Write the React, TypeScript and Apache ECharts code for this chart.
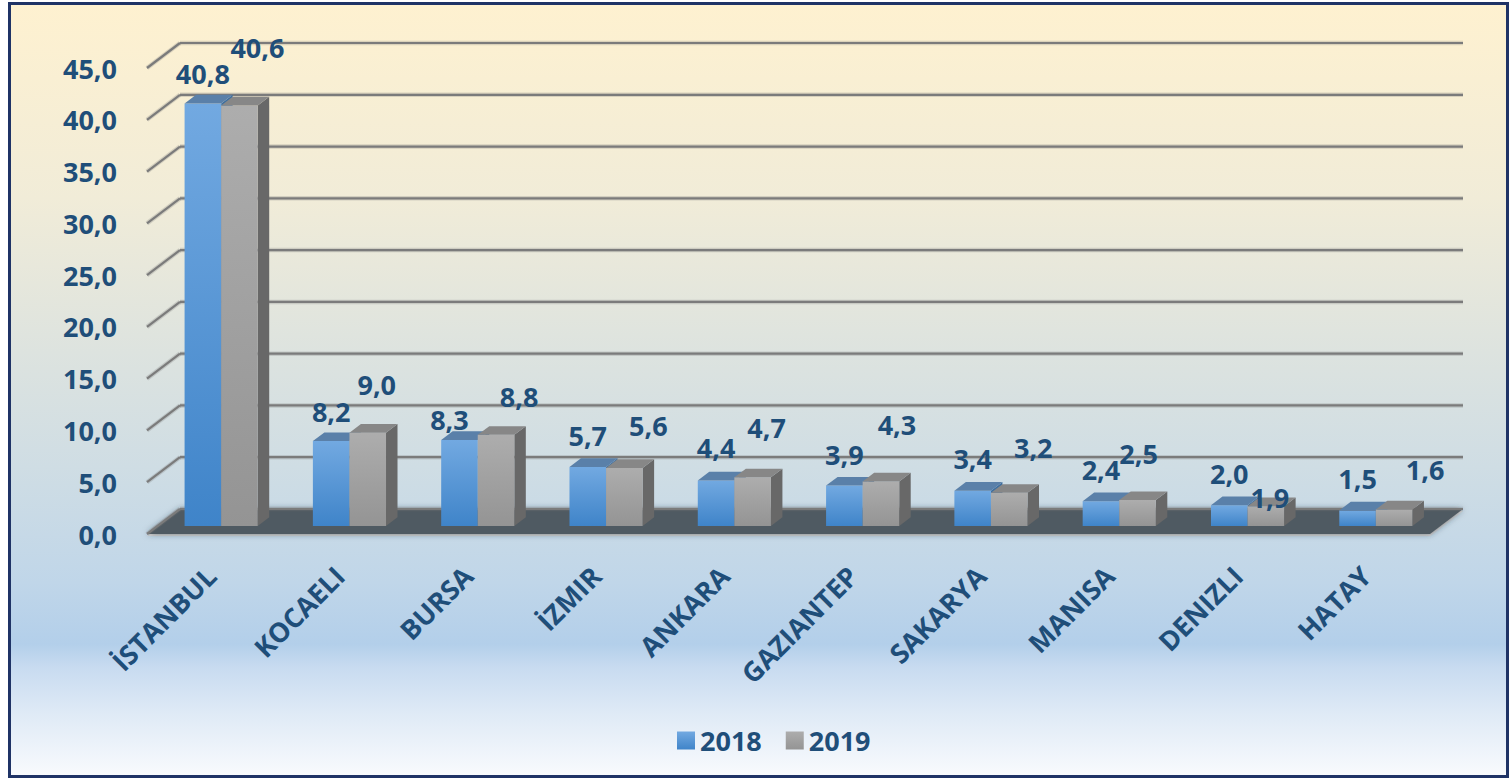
import React, { useEffect, useRef } from "react";
import * as echarts from "echarts";

// ---------- data ----------
const categories = ["İSTANBUL", "KOCAELI", "BURSA", "İZMIR", "ANKARA", "GAZIANTEP", "SAKARYA", "MANISA", "DENIZLI", "HATAY"];
const values2018 = [40.8, 8.2, 8.3, 5.7, 4.4, 3.9, 3.4, 2.4, 2.0, 1.5];
const values2019 = [40.6, 9.0, 8.8, 5.6, 4.7, 4.3, 3.2, 2.5, 1.9, 1.6];
const seriesNames = ["2018", "2019"];
const yMin = 0;
const yMax = 45;
const yStep = 5;

// ---------- styling / layout ----------
const TEXT = "#1f4e79";
const FONT = "'Open Sans', 'Noto Sans', sans-serif";
const FS = 27;
const GRID_LINE = "#7b7b7b";
const BACK = [23, -17]; // back wall offset from bar plane (px)
const FRONT = [-10, 8]; // front edge offset from bar plane (px)
const DEPTH = [11.5, -8.7]; // bar depth (px)
const BAR_FRAC = 0.285;
// label nudges relative to the centre of each bar's top-front edge
const nudge2018 = [[0, -30], [0, -30], [-10, -21], [0, -31], [0, -33], [0, -31], [0, -32], [0, -32], [0, -32], [0, -32]];
const nudge2019 = [[18, -58], [9, -48], [23, -38], [24, -43], [14, -50], [16, -57], [24, -45], [1, -47], [4, -9], [31, -40]];

const fmt = (v: number) => v.toFixed(1).replace(".", ",");

const palettes = [
  {
    front: [
      { offset: 0, color: "#72a9e1" },
      { offset: 1, color: "#3f84c9" },
    ],
    top: "#5a80a9",
    side: "#3f6f9f",
  },
  {
    front: [
      { offset: 0, color: "#adadad" },
      { offset: 1, color: "#949494" },
    ],
    top: "#878787",
    side: "#686868",
  },
];

function lg(stops: { offset: number; color: string }[]) {
  return new echarts.graphic.LinearGradient(0, 0, 0, 1, stops);
}

function makeBar(k: number) {
  return (params: any, api: any) => {
    const i = api.value(0);
    const v = api.value(1);
    const top = api.coord([i, v]);
    const base = api.coord([i, 0]);
    const cw = api.size([1, 0])[0];
    const bw = cw * BAR_FRAC;
    const x0 = top[0] - (k === 0 ? bw : 0);
    const x1 = x0 + bw;
    const yt = top[1];
    const yb = base[1];
    const [dx, dy] = DEPTH;
    const pal = palettes[k];
    const nud = (k === 0 ? nudge2018 : nudge2019)[i] || [0, -30];
    return {
      type: "group",
      children: [
        {
          type: "polygon",
          shape: { points: [[x1, yt], [x1 + dx, yt + dy], [x1 + dx, yb + dy], [x1, yb]] },
          style: { fill: pal.side },
        },
        {
          type: "rect",
          shape: { x: x0, y: yt, width: bw, height: yb - yt },
          style: { fill: lg(pal.front) },
        },
        {
          type: "polygon",
          shape: { points: [[x0, yt], [x1, yt], [x1 + dx, yt + dy], [x0 + dx, yt + dy]] },
          style: { fill: pal.top },
        },
        {
          type: "text",
          x: (x0 + x1) / 2 + nud[0],
          y: yt + nud[1],
          z2: 50,
          style: {
            text: fmt(v),
            fill: TEXT,
            font: `bold ${FS}px ${FONT}`,
            align: "center",
            verticalAlign: "middle",
            textAlign: "center",
            textVerticalAlign: "middle",
          },
        },
      ],
    };
  };
}

export default function App() {
  const ref = useRef<HTMLDivElement>(null);

  useEffect(() => {
    if (!ref.current) return;
    const chart = echarts.init(ref.current, null, { renderer: "svg" });
    const yTicks: number[] = [];
    for (let v = yMin; v <= yMax; v += yStep) yTicks.push(v);

    const labelFont = { fontSize: FS, fontWeight: "bold" as const, color: TEXT, fontFamily: FONT };

    chart.setOption({
      animation: false,
      backgroundColor: "transparent",
      grid: [
        { left: 157, top: 60, width: 1283, height: 466 },
        { left: 147, top: 68, width: 1283, height: 466 },
      ],
      xAxis: [
        { type: "category", gridIndex: 0, data: categories, show: false },
        {
          type: "category",
          gridIndex: 1,
          data: categories,
          axisLine: { show: false },
          axisTick: { show: false },
          axisLabel: { ...labelFont, rotate: 45, margin: 37, interval: 0 },
        },
      ],
      yAxis: [
        { type: "value", gridIndex: 0, min: yMin, max: yMax, interval: yStep, show: false },
        {
          type: "value",
          gridIndex: 1,
          min: yMin,
          max: yMax,
          interval: yStep,
          splitLine: { show: false },
          axisLine: { show: false },
          axisTick: { show: false },
          axisLabel: { ...labelFont, margin: 30, formatter: (v: number) => fmt(v) },
        },
      ],
      legend: {
        data: seriesNames,
        left: 672,
        top: 722,
        itemWidth: 18,
        itemHeight: 18,
        itemGap: 24,
        icon: "rect",
        textStyle: { ...labelFont },
      },
      series: [
        {
          type: "custom",
          name: "floor",
          xAxisIndex: 0,
          yAxisIndex: 0,
          data: [[0, 0]],
          z: 1,
          silent: true,
          clip: false,
          renderItem: (params: any, api: any) => {
            const cs = params.coordSys;
            const y = api.coord([0, 0])[1];
            const xl = cs.x;
            const xr = cs.x + cs.width;
            return {
              type: "group",
              children: [
                {
                  type: "polygon",
                  shape: {
                    points: [
                      [xl + FRONT[0], y + FRONT[1] + 2],
                      [xr + FRONT[0], y + FRONT[1] + 2],
                      [xr + BACK[0], y + BACK[1] + 2],
                      [xl + BACK[0], y + BACK[1] + 2],
                    ],
                  },
                  style: { fill: "#d8d8d8" },
                },
                {
                  type: "polygon",
                  shape: {
                    points: [
                      [xl + FRONT[0], y + FRONT[1]],
                      [xr + FRONT[0], y + FRONT[1]],
                      [xr + BACK[0], y + BACK[1]],
                      [xl + BACK[0], y + BACK[1]],
                    ],
                  },
                  style: { fill: "#505a62", shadowBlur: 6, shadowColor: "rgba(40,50,60,0.6)" },
                },
              ],
            };
          },
        },
        {
          type: "custom",
          name: "wall",
          xAxisIndex: 0,
          yAxisIndex: 0,
          data: yTicks.map((v) => [0, v]),
          z: 2,
          silent: true,
          clip: false,
          renderItem: (params: any, api: any) => {
            const cs = params.coordSys;
            const y = api.coord([0, api.value(1)])[1];
            const xl = cs.x;
            const xr = cs.x + cs.width;
            const halo = { stroke: "rgba(120,120,120,0.25)", lineWidth: 4.5 };
            const st = { stroke: GRID_LINE, lineWidth: 2.2 };
            const back = { x1: xl + BACK[0], y1: y + BACK[1], x2: xr + BACK[0], y2: y + BACK[1] };
            const diag = { x1: xl + FRONT[0], y1: y + FRONT[1], x2: xl + BACK[0], y2: y + BACK[1] };
            return {
              type: "group",
              children: [
                { type: "line", shape: back, style: halo },
                { type: "line", shape: back, style: st },
                { type: "line", shape: diag, style: halo },
                { type: "line", shape: diag, style: st },
              ],
            };
          },
        },
        {
          type: "custom",
          name: seriesNames[0],
          xAxisIndex: 0,
          yAxisIndex: 0,
          data: values2018.map((v, i) => [i, v]),
          itemStyle: { color: lg(palettes[0].front) },
          z: 3,
          clip: false,
          renderItem: makeBar(0),
        },
        {
          type: "custom",
          name: seriesNames[1],
          xAxisIndex: 0,
          yAxisIndex: 0,
          data: values2019.map((v, i) => [i, v]),
          itemStyle: { color: lg(palettes[1].front) },
          z: 4,
          clip: false,
          renderItem: makeBar(1),
        },
      ],
    });
    return () => chart.dispose();
  }, []);

  return (
    <div style={{ position: "fixed", left: 0, top: 0, width: 1511, height: 779, background: "#ffffff", overflow: "hidden" }}>
      <div
        style={{
          position: "absolute",
          left: 8,
          top: 2,
          width: 1501,
          height: 776,
          boxSizing: "border-box",
          border: "3px solid #1f3366",
          background:
            "linear-gradient(to bottom, #fef1d0 0%, #f1ecd8 25%, #dde3df 45%, #cfdde4 60%, #c0d6e9 75%, #b3cfea 83%, #c8dbf0 86%, #dfeaf6 92%, #f8fafd 100%)",
        }}
      />
      <div ref={ref} style={{ position: "absolute", left: 0, top: 0, width: 1511, height: 779 }} />
    </div>
  );
}
